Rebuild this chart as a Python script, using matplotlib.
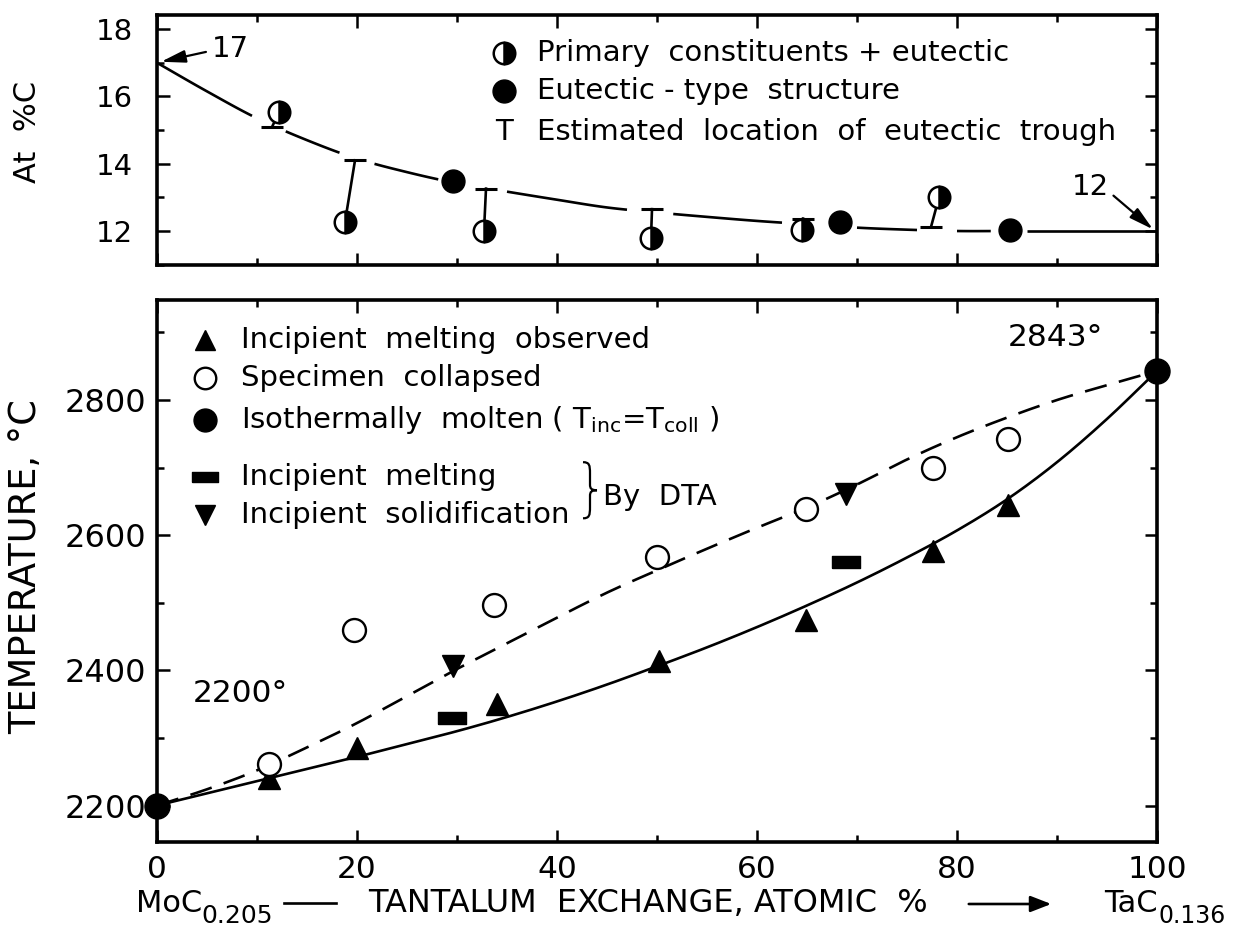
import numpy as np
import matplotlib
matplotlib.use("Agg")
import matplotlib.pyplot as plt
from matplotlib.ticker import MultipleLocator
from matplotlib.lines import Line2D
from matplotlib.path import Path
from matplotlib.patches import PathPatch, FancyArrowPatch

plt.rcParams['font.family'] = ['DejaVu Sans']
plt.rcParams['mathtext.fontset'] = 'dejavusans'

# ---------------- upper panel: carbon content of the eutectic trough ----------------
trough_x = [0, 5, 10, 15, 20, 25, 30, 35, 40, 45, 50, 55, 60, 65, 70, 75, 80, 85, 90, 95, 100]
trough_c = [17.0, 16.15, 15.35, 14.7, 14.15, 13.75, 13.42, 13.17, 12.93, 12.7, 12.55,
            12.42, 12.3, 12.2, 12.1, 12.04, 12.0, 12.0, 12.0, 12.0, 12.0]

# primary constituents + eutectic (half-filled circles)
primary_x = [12.2, 18.8, 32.7, 49.4, 64.5, 78.2]
primary_c = [15.53, 12.27, 12.0, 11.79, 12.02, 13.0]
# eutectic-type structure (filled circles)
eutectic_x = [29.6, 68.3, 85.3]
eutectic_c = [13.48, 12.26, 12.02]
# estimated location of the eutectic trough ("T" marks) for each primary sample
trough_mark_x = [11.5, 19.8, 32.9, 49.5, 64.6, 77.4]
trough_mark_c = [15.09, 14.10, 13.26, 12.65, 12.37, 12.12]

# ---------------- lower panel: melting behaviour ----------------
comp_x = [0, 5, 10, 15, 20, 25, 30, 35, 40, 45, 50, 55, 60, 65, 70, 75, 80, 85, 90, 95, 100]
solidus_t = [2200, 2218, 2236, 2254, 2272, 2291, 2310, 2331, 2354, 2379, 2406,
             2434, 2464, 2496, 2530, 2567, 2607, 2653, 2708, 2772, 2843]
liquidus_t = [2200, 2224, 2252, 2286, 2322, 2362, 2402, 2440, 2478, 2515, 2548,
              2580, 2611, 2641, 2675, 2712, 2745, 2774, 2800, 2822, 2843]

incipient_x = [11.2, 20.0, 34.0, 50.2, 64.9, 77.6, 85.1]
incipient_t = [2241, 2285, 2350, 2414, 2475, 2577, 2645]
collapsed_x = [11.2, 19.7, 33.7, 50.0, 64.9, 77.6, 85.1]
collapsed_t = [2261, 2459, 2497, 2568, 2639, 2700, 2743]
isothermal_x = [0, 100]
isothermal_t = [2200, 2843]
dta_melt_x = [29.5, 68.9]
dta_melt_t = [2330, 2561]
dta_solid_x = [29.6, 68.9]
dta_solid_t = [2406, 2661]

x_ticks = [0, 20, 40, 60, 80, 100]
t_ticks = [2200, 2400, 2600, 2800]
c_ticks = [12, 14, 16, 18]

W, H = 1235, 932


def fx(px):
    return px / W


def fy(py):
    return 1 - py / H


def smooth(xs, ys, n=40):
    """Cubic Hermite curve through the given points."""
    xs = np.asarray(xs, float)
    ys = np.asarray(ys, float)
    m = np.gradient(ys, xs)
    ox, oy = [], []
    for i in range(len(xs) - 1):
        h = xs[i + 1] - xs[i]
        t = np.linspace(0, 1, n, endpoint=False)
        h00 = 2 * t**3 - 3 * t**2 + 1
        h10 = t**3 - 2 * t**2 + t
        h01 = -2 * t**3 + 3 * t**2
        h11 = t**3 - t**2
        ox.append(xs[i] + t * h)
        oy.append(h00 * ys[i] + h10 * h * m[i] + h01 * ys[i + 1] + h11 * h * m[i + 1])
    ox.append([xs[-1]])
    oy.append([ys[-1]])
    return np.concatenate(ox), np.concatenate(oy)


fig = plt.figure(figsize=(W / 100, H / 100), dpi=100)
ax1 = fig.add_axes([fx(157), fy(265), 1000 / W, 250 / H])
ax2 = fig.add_axes([fx(157), fy(842), 1000 / W, 542 / H])

FS = 21
LW = 1.9


def style_axes(ax):
    for s in ax.spines.values():
        s.set_linewidth(2.6)
    ax.xaxis.set_major_locator(MultipleLocator(20))
    ax.xaxis.set_minor_locator(MultipleLocator(10))
    ax.tick_params(which='both', direction='in', top=True, right=True, width=1.8)
    ax.tick_params(which='major', length=9)
    ax.tick_params(which='minor', length=5)


# ---------- upper panel ----------
style_axes(ax1)
ax1.set_xlim(0, 100)
ax1.set_ylim(10.99, 18.42)
ax1.set_yticks(c_ticks)
ax1.yaxis.set_minor_locator(MultipleLocator(1))
ax1.tick_params(axis='x', labelbottom=False)
ax1.tick_params(axis='y', pad=17, labelsize=21)

sx, sy = smooth(trough_x, trough_c)
segments = [(0, 9.6), (12.8, 18.3), (21.7, 28.2), (35.0, 47.0), (51.6, 62.5),
            (70.0, 76.1), (79.9, 83.4), (87.0, 100)]
for a, b in segments:
    sel = (sx >= a) & (sx <= b)
    ax1.plot(sx[sel], sy[sel], color='k', lw=LW, solid_capstyle='butt', zorder=2)

# T marks: bar on the trough line, stem to the sample point
for bx, bc, px_, pc in zip(trough_mark_x, trough_mark_c, primary_x, primary_c):
    ax1.plot([bx - 1.1, bx + 1.1], [bc, bc], color='k', lw=LW + 0.3,
             solid_capstyle='butt', zorder=2)
    ax1.plot([bx, px_], [bc, pc], color='k', lw=LW, zorder=2)

ax1.plot(primary_x, primary_c, ls='none', marker='o', ms=15.5, fillstyle='right',
         mfc='k', mfcalt='white', mec='k', mew=1.8, zorder=4)
ax1.plot(eutectic_x, eutectic_c, ls='none', marker='o', ms=16.5, color='k', zorder=4)

ax1.annotate('17', xy=(0.4, 17.03), xytext=(7.3, 17.4), fontsize=FS,
             ha='center', va='center',
             arrowprops=dict(arrowstyle='-|>,head_length=0.7,head_width=0.18',
                             lw=1.6, color='k', shrinkA=2, shrinkB=0,
                             relpos=(0.0, 0.45)))
ax1.annotate('12', xy=(99.6, 12.05), xytext=(93.3, 13.3), fontsize=FS,
             ha='center', va='center',
             arrowprops=dict(arrowstyle='-|>,head_length=0.7,head_width=0.18',
                             lw=1.6, color='k', shrinkA=2, shrinkB=0,
                             relpos=(1.0, 0.35)))

# upper legend
ax1.plot([34.7], [17.29], marker='o', ms=15.5, fillstyle='right', mfc='k',
         mfcalt='white', mec='k', mew=1.8, ls='none')
ax1.plot([34.7], [16.16], marker='o', ms=16.5, color='k', ls='none')
ax1.text(34.7, 14.94, 'T', fontsize=FS, ha='center', va='center')
ax1.text(38.0, 17.29, 'Primary  constituents + eutectic', fontsize=FS, va='center')
ax1.text(38.0, 16.16, 'Eutectic - type  structure', fontsize=FS, va='center')
ax1.text(38.0, 14.94, 'Estimated  location  of  eutectic  trough', fontsize=FS,
         va='center')

# ---------- lower panel ----------
style_axes(ax2)
ax2.set_xlim(0, 100)
ax2.set_ylim(2146, 2948)
ax2.set_xticks(x_ticks)
ax2.set_yticks(t_ticks)
ax2.yaxis.set_minor_locator(MultipleLocator(100))
ax2.tick_params(axis='y', pad=8, labelsize=23)
ax2.tick_params(axis='x', pad=9, labelsize=22.5)

lx, ly = smooth(comp_x, solidus_t)
ax2.plot(lx, ly, color='k', lw=LW, zorder=2)
dx, dy = smooth(comp_x, liquidus_t)
ax2.plot(dx, dy, color='k', lw=LW, ls=(0, (8.5, 4.8)), zorder=2)

bar_marker = [(-1.25, -0.5), (1.25, -0.5), (1.25, 0.5), (-1.25, 0.5), (-1.25, -0.5)]

ax2.plot(incipient_x, incipient_t, ls='none', marker='^', ms=16, color='k', zorder=4)
ax2.plot(collapsed_x, collapsed_t, ls='none', marker='o', ms=16.5, mfc='white',
         mec='k', mew=1.7, zorder=4)
ax2.plot(isothermal_x, isothermal_t, ls='none', marker='o', ms=18, color='k',
         zorder=5, clip_on=False)
ax2.plot(dta_melt_x, dta_melt_t, ls='none', marker=bar_marker, ms=20, color='k',
         zorder=4)
ax2.plot(dta_solid_x, dta_solid_t, ls='none', marker='v', ms=16.5, color='k',
         zorder=4)

ax2.text(8.3, 2366, '2200°', fontsize=22.5, ha='center', va='center')
ax2.text(89.8, 2893, '2843°', fontsize=22.5, ha='center', va='center')

# lower legend
leg_x, txt_x = 4.8, 8.4
ax2.plot([leg_x], [2889], marker='^', ms=15, color='k', ls='none')
ax2.plot([leg_x], [2833], marker='o', ms=15.5, mfc='white', mec='k', mew=1.7, ls='none')
ax2.plot([leg_x], [2770], marker='o', ms=16.5, color='k', ls='none')
ax2.plot([leg_x], [2686], marker=bar_marker, ms=19, color='k', ls='none')
ax2.plot([leg_x], [2630], marker='v', ms=15, color='k', ls='none')
ax2.text(txt_x, 2889, 'Incipient  melting  observed', fontsize=FS, va='center')
ax2.text(txt_x, 2833, 'Specimen  collapsed', fontsize=FS, va='center')
ax2.text(txt_x, 2770,
         r'Isothermally  molten ( T$_{\mathregular{inc}}$=T$_{\mathregular{coll}}$ )',
         fontsize=FS, va='center')
ax2.text(txt_x, 2686, 'Incipient  melting', fontsize=FS, va='center')
ax2.text(txt_x, 2630, 'Incipient  solidification', fontsize=FS, va='center')

# brace grouping the two DTA entries
bx0, bw, by0, bh = 42.6, 1.4, 2625, 83
brace_uv = [(0, 1), (0.45, 1), (0.5, 0.95), (0.5, 0.8), (0.5, 0.6),
            (0.5, 0.53), (0.6, 0.5), (1, 0.5), (0.6, 0.5), (0.5, 0.47),
            (0.5, 0.4), (0.5, 0.2), (0.5, 0.05), (0.45, 0), (0, 0)]
brace_codes = [Path.MOVETO, Path.CURVE4, Path.CURVE4, Path.CURVE4, Path.LINETO,
               Path.CURVE4, Path.CURVE4, Path.CURVE4, Path.CURVE4, Path.CURVE4,
               Path.CURVE4, Path.LINETO, Path.CURVE4, Path.CURVE4, Path.CURVE4]
brace_pts = [(bx0 + u * bw, by0 + v * bh) for u, v in brace_uv]
ax2.add_patch(PathPatch(Path(brace_pts, brace_codes), fill=False, lw=1.6, color='k'))
ax2.text(44.6, 2656, 'By  DTA', fontsize=FS, va='center')

# ---------- axis titles ----------
fig.text(fx(27), fy(132), 'At  %C', rotation=90, fontsize=22, ha='center', va='center')
fig.text(fx(26), fy(567), 'TEMPERATURE, °C', rotation=90, fontsize=26.5,
         ha='center', va='center')

fig.text(fx(136), fy(904), 'MoC', fontsize=22, ha='left', va='center')
fig.text(fx(201), fy(916), '0.205', fontsize=18, ha='left', va='center')
fig.add_artist(Line2D([fx(284), fx(336)], [fy(903), fy(903)], color='k', lw=LW))
fig.text(fx(368), fy(904), 'TANTALUM  EXCHANGE, ATOMIC  %', fontsize=23,
         ha='left', va='center')
fig.add_artist(FancyArrowPatch(
    (fx(966), fy(904)), (fx(1054), fy(904)), transform=fig.transFigure,
    arrowstyle='-|>,head_length=0.9,head_width=0.35', mutation_scale=14,
    lw=LW, color='k'))
fig.text(fx(1104), fy(904), 'TaC', fontsize=22, ha='left', va='center')
fig.text(fx(1159), fy(916), '0.136', fontsize=17, ha='left', va='center')

fig.savefig('out.png', dpi=100, facecolor='white')
